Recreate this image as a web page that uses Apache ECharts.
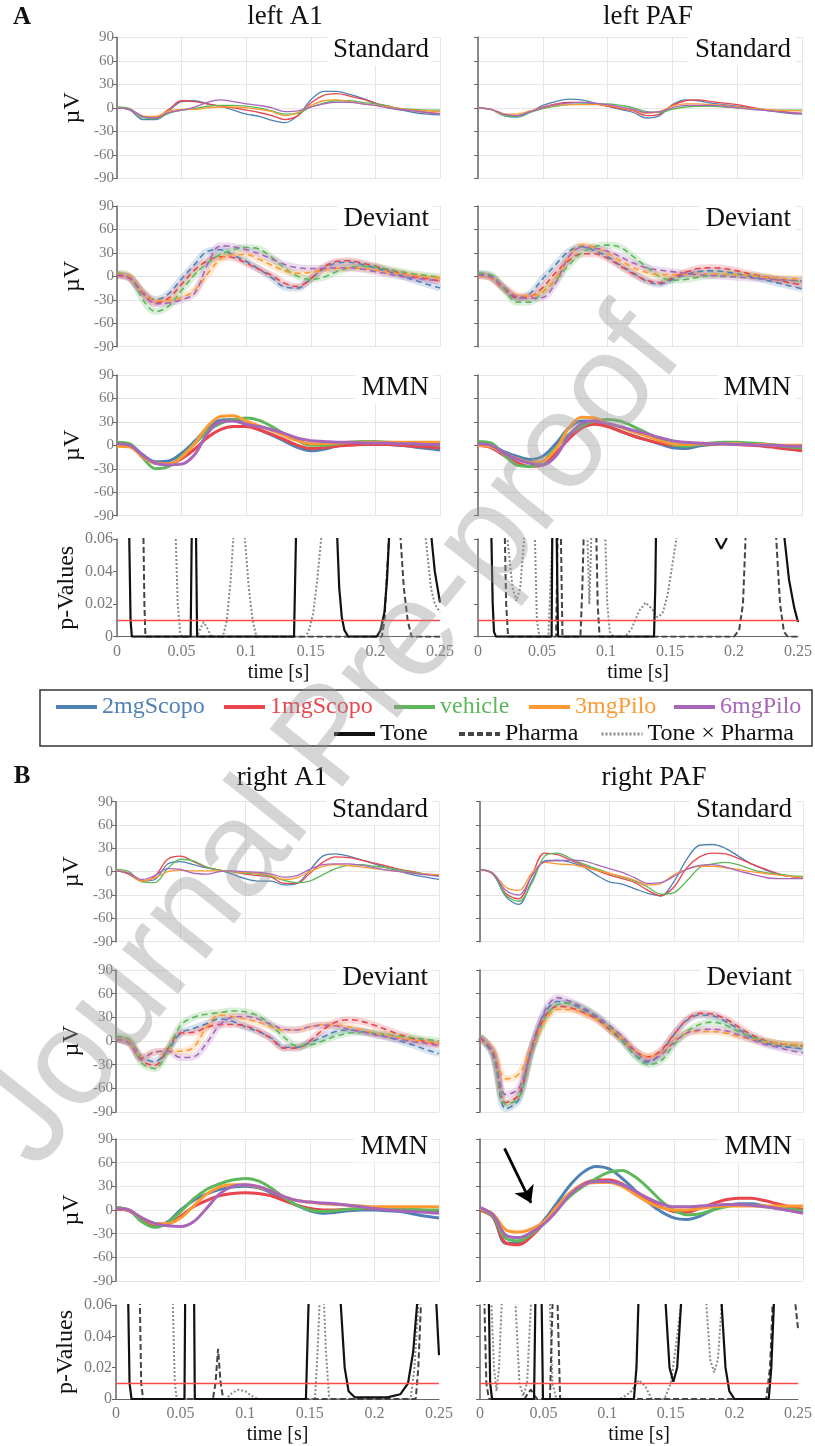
<!DOCTYPE html>
<html><head><meta charset="utf-8">
<script src="https://cdn.jsdelivr.net/npm/echarts@6/dist/echarts.min.js"></script>
<style>html,body{margin:0;padding:0;background:#fff}#c{width:815px;height:1446px}</style>
</head><body><div id="c"></div><script>
// ---------- DATA ----------
const times = [0,0.01,0.02,0.03,0.04,0.05,0.06,0.07,0.08,0.09,0.10,0.11,0.12,0.13,0.14,0.15,0.16,0.17,0.18,0.19,0.20,0.21,0.22,0.23,0.24,0.25];
const groups = ['2mgScopo','1mgScopo','vehicle','3mgPilo','6mgPilo'];
const pTerms = ['Tone','Pharma','Tone × Pharma'];
const pThreshold = 0.0125;
const columnTitles = ['left A1','left PAF','right A1','right PAF'];
const panelLabels = ['Standard','Deviant','MMN'];
const sectionLabels = ['A','B'];
const watermarkText = 'Journal Pre-proof';
// arrow annotation in right PAF MMN panel: [time, µV]
const arrowStart = [0.019, 78];
const arrowEnd = [0.0395, 9];

const leftA1Standard = {
  '2mgScopo':[0,-3,-15,-15,-4,8,9,5,2,-3,-8,-11,-16,-19,-10,10,21,21,17,12,6,0,-3,-6,-8,-9],
  '1mgScopo':[0,-2,-11,-12,-2,9,8,5,2,0,-3,-6,-10,-15,-10,6,16,18,15,11,6,2,-2,-4,-6,-7],
  'vehicle':[1,-1,-13,-14,-7,-3,-1,2,3,3,2,0,-4,-8,-7,1,6,9,9,7,5,2,-1,-2,-3,-3],
  '3mgPilo':[0,-2,-11,-11,-4,-2,-2,0,1,1,0,-2,-5,-10,-6,3,9,10,8,5,3,1,-1,-3,-4,-5],
  '6mgPilo':[0,-2,-11,-13,-6,-3,1,7,10,8,5,3,0,-5,-4,1,5,7,7,5,3,0,-2,-4,-6,-8]
};
const leftPAFStandard = {
  '2mgScopo':[0,-2,-10,-12,-6,3,8,11,10,6,2,-2,-6,-13,-10,4,10,9,6,4,2,0,-3,-5,-7,-8],
  '1mgScopo':[0,-2,-8,-10,-5,1,5,7,7,5,2,-1,-4,-10,-8,3,9,10,8,6,4,1,-2,-4,-6,-7],
  'vehicle':[0,-2,-10,-11,-6,-1,2,4,5,5,5,3,0,-5,-6,-2,1,2,2,1,0,-1,-2,-3,-3,-3],
  '3mgPilo':[0,-2,-8,-8,-4,0,3,4,4,4,3,0,-3,-7,-5,2,5,5,4,3,1,-1,-2,-3,-4,-4],
  '6mgPilo':[0,-2,-8,-10,-5,0,4,6,7,6,4,1,-2,-6,-5,0,3,3,3,2,0,-2,-3,-5,-6,-7]
};
const leftA1Deviant = {
  '2mgScopo':[2,-2,-20,-30,-22,-3,15,32,34,27,19,9,-2,-14,-15,-3,10,17,18,15,11,6,1,-5,-10,-15],
  '1mgScopo':[1,-3,-22,-34,-28,-10,8,20,25,24,17,9,1,-9,-13,-3,12,19,20,17,13,8,4,0,-3,-6],
  'vehicle':[4,0,-30,-45,-38,-18,2,17,28,34,37,35,24,10,0,-4,-1,6,11,13,12,9,6,3,1,-1],
  '3mgPilo':[3,0,-20,-31,-31,-27,-18,3,22,28,28,22,14,7,4,5,8,10,11,10,8,5,3,1,-1,-2],
  '6mgPilo':[2,-2,-22,-35,-34,-30,-22,15,39,38,34,29,22,15,11,10,10,11,11,9,6,3,0,-2,-4,-6]
};
const leftPAFDeviant = {
  '2mgScopo':[3,0,-15,-28,-22,-3,15,32,38,33,25,14,4,-6,-10,-4,2,6,7,6,3,0,-4,-8,-12,-16],
  '1mgScopo':[1,-2,-16,-27,-26,-14,5,20,29,29,23,13,3,-5,-8,-2,5,10,11,10,7,3,0,-4,-8,-11],
  'vehicle':[4,2,-16,-33,-33,-20,-5,14,30,38,40,37,25,12,0,-5,-4,-1,1,2,2,1,-1,-3,-5,-6],
  '3mgPilo':[1,-2,-14,-24,-25,-20,-3,24,40,37,30,20,11,5,2,2,3,3,3,3,2,1,-1,-2,-3,-3],
  '6mgPilo':[2,-1,-14,-26,-28,-27,-8,25,37,36,32,25,17,11,8,6,4,2,1,0,-1,-2,-3,-4,-5,-6]
};
const leftA1MMN = {
  '2mgScopo':[3,1,-12,-21,-20,-10,5,22,32,33,27,20,13,5,-3,-7,-5,-1,1,2,2,1,0,-2,-4,-6],
  '1mgScopo':[1,-1,-13,-23,-24,-17,-5,10,20,24,24,20,14,7,0,-4,-3,-1,0,1,1,1,0,-1,-2,-3],
  'vehicle':[4,2,-16,-30,-27,-14,2,18,28,33,35,32,24,14,6,0,0,2,4,5,5,4,3,2,1,0],
  '3mgPilo':[-1,-2,-15,-23,-24,-15,2,24,37,38,31,25,19,12,6,2,2,3,4,4,4,4,4,4,4,4],
  '6mgPilo':[2,0,-13,-23,-25,-24,-12,15,30,31,27,24,20,15,9,6,5,4,4,3,3,3,2,2,1,1]
};
const leftPAFMMN = {
  '2mgScopo':[3,1,-8,-14,-18,-14,2,22,31,31,25,18,12,7,2,-3,-4,-1,1,2,2,1,0,-2,-4,-6],
  '1mgScopo':[0,-3,-13,-22,-27,-25,-10,8,22,27,24,18,12,7,3,0,0,1,2,2,1,0,-1,-3,-5,-7],
  'vehicle':[5,3,-12,-25,-27,-20,-3,14,25,31,33,31,24,16,8,1,-1,1,3,4,4,3,2,0,-2,-3],
  '3mgPilo':[0,-2,-10,-17,-22,-20,-5,22,36,35,28,23,17,12,6,2,1,2,2,2,2,1,1,0,0,0],
  '6mgPilo':[2,0,-10,-18,-23,-25,-14,12,28,31,28,24,19,15,10,6,4,3,2,2,1,1,0,0,-1,-1]
};
const rightA1Standard = {
  '2mgScopo':[2,-3,-12,-10,10,13,9,5,2,-3,-9,-12,-12,-17,-15,2,20,23,20,15,10,5,0,-4,-7,-10],
  '1mgScopo':[2,-3,-12,-6,16,20,13,6,2,0,-3,-5,-7,-15,-15,-2,12,19,18,15,11,7,3,0,-3,-5],
  'vehicle':[3,0,-13,-14,4,16,14,6,2,0,-2,-3,-6,-11,-14,-12,-4,4,8,9,7,5,2,-1,-3,-4],
  '3mgPilo':[2,-2,-12,-8,0,2,1,1,1,0,-1,-2,-5,-10,-8,0,7,9,8,6,4,2,0,-2,-3,-4],
  '6mgPilo':[1,-2,-10,-5,4,3,-2,-3,0,1,0,-1,-3,-7,-5,3,9,10,10,8,5,2,0,-2,-4,-6]
};
const rightPAFStandard = {
  '2mgScopo':[3,-3,-32,-42,-12,14,15,12,6,-4,-13,-16,-22,-28,-31,-13,16,34,35,30,20,10,3,-3,-6,-8],
  '1mgScopo':[3,-3,-28,-35,-5,24,22,15,8,2,-4,-9,-14,-24,-31,-20,5,19,24,23,17,10,4,-2,-6,-8],
  'vehicle':[3,-2,-30,-38,-15,20,24,17,10,4,-2,-7,-12,-20,-29,-27,-12,5,10,12,9,3,-1,-3,-5,-6],
  '3mgPilo':[3,-2,-20,-24,-2,12,10,9,6,2,-2,-6,-11,-17,-15,-4,3,7,7,5,3,0,-2,-4,-6,-8],
  '6mgPilo':[3,-2,-24,-30,-6,13,14,15,14,9,4,-1,-8,-15,-14,-6,3,8,9,6,1,-3,-7,-9,-9,-9]
};
const rightA1Deviant = {
  '2mgScopo':[3,0,-20,-26,-12,10,16,22,28,25,18,12,4,-8,-8,-2,5,12,14,12,9,5,0,-5,-11,-16],
  '1mgScopo':[2,-2,-25,-31,-10,10,11,17,21,21,19,13,3,-9,-9,0,14,24,27,25,20,14,8,3,-1,-5],
  'vehicle':[6,2,-28,-35,-12,20,30,34,36,38,37,32,20,5,-6,-5,0,6,10,11,10,8,6,4,2,0],
  '3mgPilo':[3,0,-20,-14,-13,-13,-8,17,33,31,28,24,18,14,14,18,21,20,18,14,10,7,4,1,-1,-3],
  '6mgPilo':[2,-2,-22,-14,-13,-21,-20,-3,20,30,31,28,21,15,14,18,20,19,15,12,8,5,2,-1,-3,-6]
};
const rightPAFDeviant = {
  '2mgScopo':[5,-18,-86,-74,-8,35,50,47,40,30,15,0,-18,-27,-15,8,26,33,32,25,15,5,-2,-6,-8,-10],
  '1mgScopo':[4,-15,-78,-68,-10,30,44,42,36,28,15,2,-13,-20,-12,8,27,35,34,28,18,8,1,-3,-5,-6],
  'vehicle':[6,-15,-80,-72,-14,28,46,48,42,32,18,2,-18,-30,-25,-5,12,21,24,20,12,5,0,-3,-5,-6],
  '3mgPilo':[5,-10,-48,-42,-8,25,40,40,35,27,15,3,-12,-20,-15,0,10,12,12,10,6,2,-1,-3,-4,-5],
  '6mgPilo':[5,-13,-68,-60,-10,38,55,50,42,32,20,6,-12,-25,-18,-2,10,14,15,13,8,2,-4,-8,-12,-15]
};
const rightA1MMN = {
  '2mgScopo':[3,0,-12,-20,-15,0,12,20,26,29,30,28,22,14,6,-1,-4,-3,-1,0,0,-1,-2,-5,-8,-10],
  '1mgScopo':[1,-1,-12,-20,-18,-8,4,12,18,21,22,21,18,12,6,2,0,0,1,2,2,1,0,-1,-2,-3],
  'vehicle':[3,0,-15,-22,-16,-2,14,26,33,38,40,37,28,16,6,0,-2,-1,1,2,3,3,2,1,0,0],
  '3mgPilo':[2,0,-10,-17,-17,-10,5,20,29,32,32,29,24,17,12,10,8,7,6,5,4,4,4,4,4,4],
  '6mgPilo':[2,0,-10,-17,-20,-21,-15,2,20,30,32,30,24,17,12,10,9,8,6,4,2,0,-1,-2,-3,-4]
};
const rightPAFMMN = {
  '2mgScopo':[3,-8,-42,-42,-30,-12,10,32,48,55,52,40,25,10,-2,-10,-12,-8,0,5,8,8,5,2,0,-2],
  '1mgScopo':[0,-9,-42,-44,-33,-16,5,22,33,38,38,33,22,12,4,-2,-3,2,8,13,15,15,12,8,4,1],
  'vehicle':[2,-8,-36,-39,-30,-16,2,18,30,40,48,50,42,28,12,0,-6,-5,0,4,6,6,5,3,1,-1],
  '3mgPilo':[2,-5,-25,-28,-24,-14,5,22,32,35,35,30,20,10,3,0,0,2,4,5,5,5,5,5,5,5],
  '6mgPilo':[3,-6,-32,-35,-28,-17,0,20,32,36,36,32,24,15,8,4,4,5,6,7,7,6,4,2,-1,-4]
};

// p-values: [time (s), p]
const leftA1P = {
  'Tone':[[0,1],[0.0085,0.3],[0.0095,0.06],[0.0105,0.01],[0.0115,0],[0.057,0],[0.0578,0.06],[0.0595,0.3],[0.0612,0.06],[0.062,0],[0.137,0],[0.1385,0.06],[0.142,0.4],[0.166,0.4],[0.1705,0.06],[0.172,0.03],[0.174,0.012],[0.176,0.004],[0.179,0],[0.201,0],[0.204,0.004],[0.207,0.015],[0.209,0.035],[0.2105,0.06],[0.214,0.3],[0.238,0.3],[0.2435,0.06],[0.246,0.04],[0.25,0.021]],
  'Pharma':[[0,1],[0.019,0.3],[0.0205,0.06],[0.0212,0.02],[0.022,0],[0.205,0],[0.207,0.01],[0.209,0.04],[0.2105,0.06],[0.213,0.3],[0.217,0.3],[0.2195,0.06],[0.222,0.03],[0.225,0.01],[0.228,0],[0.25,0]],
  'Tone × Pharma':[[0,1],[0.043,0.3],[0.0455,0.06],[0.047,0.02],[0.049,0.002],[0.05,0],[0.062,0],[0.064,0.004],[0.067,0.009],[0.07,0.005],[0.073,0],[0.082,0],[0.085,0.01],[0.088,0.035],[0.09,0.06],[0.093,0.3],[0.096,0.3],[0.099,0.06],[0.102,0.03],[0.105,0.01],[0.108,0],[0.146,0],[0.149,0.005],[0.152,0.015],[0.155,0.035],[0.158,0.06],[0.162,0.3],[0.235,0.3],[0.239,0.06],[0.243,0.03],[0.246,0.02],[0.25,0.015]]
};
const leftPAFP = {
  'Tone':[[0,1],[0.009,0.3],[0.0105,0.06],[0.0115,0.02],[0.0125,0.003],[0.014,0],[0.0575,0],[0.058,0.06],[0.06,0.3],[0.0615,0.06],[0.0625,0],[0.1375,0],[0.1385,0.03],[0.139,0.06],[0.142,0.3],[0.18,0.3],[0.186,0.06],[0.19,0.054],[0.194,0.06],[0.2,0.3],[0.236,0.3],[0.2395,0.06],[0.243,0.035],[0.247,0.018],[0.25,0.009]],
  'Pharma':[[0,1],[0.02,0.3],[0.021,0.06],[0.022,0.02],[0.0235,0],[0.061,0],[0.0622,0.06],[0.063,0.3],[0.064,0.3],[0.0648,0.06],[0.066,0],[0.08,0],[0.0815,0.03],[0.0825,0.06],[0.085,0.3],[0.09,0.3],[0.0925,0.06],[0.0935,0.02],[0.095,0],[0.2,0],[0.204,0.004],[0.207,0.02],[0.209,0.06],[0.212,0.3],[0.23,0.3],[0.233,0.06],[0.236,0.02],[0.239,0.003],[0.242,0],[0.25,0]],
  'Tone × Pharma':[[0,1],[0.02,0.3],[0.023,0.06],[0.027,0.03],[0.03,0.022],[0.033,0.03],[0.036,0.06],[0.038,0.3],[0.042,0.3],[0.0445,0.06],[0.046,0.01],[0.048,0],[0.055,0],[0.058,0.06],[0.06,0.3],[0.083,0.3],[0.0855,0.06],[0.087,0.02],[0.0885,0.06],[0.09,0.3],[0.097,0.3],[0.0995,0.06],[0.101,0.02],[0.103,0.003],[0.106,0],[0.115,0],[0.12,0.005],[0.126,0.016],[0.131,0.021],[0.136,0.017],[0.14,0.012],[0.144,0.014],[0.148,0.025],[0.152,0.045],[0.155,0.06],[0.16,0.3],[0.25,0.3]]
};
const rightA1P = {
  'Tone':[[0,1],[0.0085,0.3],[0.0095,0.06],[0.0105,0.01],[0.012,0],[0.053,0],[0.0535,0.06],[0.0565,0.3],[0.0605,0.06],[0.061,0],[0.147,0],[0.148,0.03],[0.149,0.06],[0.152,0.3],[0.17,0.3],[0.174,0.06],[0.177,0.02],[0.18,0.005],[0.185,0.001],[0.21,0.001],[0.22,0.003],[0.226,0.01],[0.23,0.03],[0.233,0.06],[0.237,0.3],[0.245,0.3],[0.248,0.06],[0.25,0.028]],
  'Pharma':[[0,1],[0.017,0.3],[0.0185,0.06],[0.0195,0.01],[0.021,0],[0.075,0],[0.077,0.01],[0.079,0.032],[0.081,0.01],[0.083,0],[0.232,0],[0.234,0.02],[0.236,0.06],[0.238,0.3],[0.25,0.3]],
  'Tone × Pharma':[[0,1],[0.042,0.3],[0.044,0.06],[0.0455,0.01],[0.047,0],[0.085,0],[0.09,0.004],[0.095,0.006],[0.1,0.005],[0.105,0.002],[0.11,0],[0.154,0],[0.156,0.03],[0.1575,0.06],[0.159,0.3],[0.161,0.06],[0.1625,0.03],[0.165,0],[0.228,0],[0.231,0.02],[0.234,0.06],[0.237,0.3],[0.25,0.3]]
};
const rightPAFP = {
  'Tone':[[0,1],[0.006,0.3],[0.007,0.06],[0.008,0.01],[0.0095,0],[0.0425,0],[0.0435,0.06],[0.046,0.3],[0.0485,0.06],[0.0495,0],[0.121,0],[0.123,0.02],[0.1245,0.06],[0.127,0.3],[0.143,0.3],[0.146,0.06],[0.149,0.02],[0.152,0.011],[0.155,0.02],[0.158,0.06],[0.161,0.3],[0.186,0.3],[0.19,0.06],[0.193,0.02],[0.196,0.005],[0.2,0],[0.227,0],[0.229,0.02],[0.231,0.06],[0.234,0.3],[0.25,0.3]],
  'Pharma':[[0,1],[0.002,0.3],[0.0035,0.06],[0.005,0.01],[0.007,0],[0.035,0],[0.038,0.004],[0.04,0.006],[0.043,0.002],[0.045,0],[0.055,0],[0.057,0.06],[0.059,0.3],[0.061,0.06],[0.063,0],[0.225,0],[0.228,0.02],[0.23,0.06],[0.233,0.3],[0.245,0.3],[0.248,0.06],[0.25,0.045]],
  'Tone × Pharma':[[0,0.3],[0.006,0.3],[0.009,0.06],[0.011,0.02],[0.013,0.005],[0.015,0.02],[0.017,0.06],[0.02,0.3],[0.025,0.3],[0.028,0.06],[0.031,0.01],[0.034,0.002],[0.037,0.01],[0.04,0.06],[0.043,0.3],[0.052,0.3],[0.055,0.06],[0.057,0.01],[0.06,0],[0.11,0],[0.118,0.004],[0.125,0.012],[0.13,0.008],[0.135,0],[0.145,0],[0.15,0.01],[0.155,0.04],[0.158,0.06],[0.162,0.3],[0.174,0.3],[0.178,0.06],[0.181,0.025],[0.184,0.017],[0.187,0.025],[0.19,0.06],[0.194,0.3],[0.25,0.3]]
};

// ---------- STYLE / LAYOUT ----------
const FONT = '"Liberation Serif", "DejaVu Serif", serif';
const colorOf = {'2mgScopo':'#4f81b5','1mgScopo':'#e8454c','vehicle':'#5db85c','3mgPilo':'#ff9a33','6mgPilo':'#a866b8'};
const pStyle = {
  'Tone':{color:'#111', width:2.2, type:'solid'},
  'Pharma':{color:'#444', width:2, type:[6,3]},
  'Tone × Pharma':{color:'#8a8a8a', width:2, type:[2,2]}
};
const layout = [
  {data:leftA1Standard, kind:'std', x0:117, x1:440, top:37.3, h:141, left:true, label:0},
  {data:leftPAFStandard, kind:'std', x0:478, x1:802, top:37.3, h:141, left:false, label:0},
  {data:leftA1Deviant, kind:'dev', x0:117, x1:440, top:206, h:140.7, left:true, label:1},
  {data:leftPAFDeviant, kind:'dev', x0:478, x1:802, top:206, h:140.7, left:false, label:1},
  {data:leftA1MMN, kind:'mmn', x0:117, x1:440, top:375, h:140.7, left:true, label:2},
  {data:leftPAFMMN, kind:'mmn', x0:478, x1:802, top:375, h:140.7, left:false, label:2},
  {data:leftA1P, kind:'p', x0:117, x1:440, top:539, h:97.7, left:true},
  {data:leftPAFP, kind:'p', x0:478, x1:802, top:539, h:97.7, left:false},
  {data:rightA1Standard, kind:'std', x0:116, x1:439, top:801.7, h:140, left:true, label:0},
  {data:rightPAFStandard, kind:'std', x0:480, x1:803, top:801.7, h:140, left:false, label:0},
  {data:rightA1Deviant, kind:'dev', x0:116, x1:439, top:970, h:142, left:true, label:1},
  {data:rightPAFDeviant, kind:'dev', x0:480, x1:803, top:970, h:142, left:false, label:1},
  {data:rightA1MMN, kind:'mmn', x0:116, x1:439, top:1139, h:142, left:true, label:2},
  {data:rightPAFMMN, kind:'mmn', x0:480, x1:803, top:1139, h:142, left:false, label:2, arrow:true},
  {data:rightA1P, kind:'p', x0:116, x1:439, top:1305, h:98, left:true},
  {data:rightPAFP, kind:'p', x0:480, x1:803, top:1305, h:98, left:false}
];

const grids = [], xAxes = [], yAxes = [], series = [], graphics = [];
const axisDark = '#666', gridGrey = '#e6e6e6', tickGrey = '#7a7a7a';

layout.forEach((p, i) => {
  grids.push({left:p.x0, top:p.top, width:p.x1 - p.x0, height:p.h});
  if (p.kind === 'p') {
    xAxes.push({gridIndex:i, type:'value', min:0, max:0.25, interval:0.05,
      axisLine:{show:true, onZero:false, lineStyle:{color:axisDark, width:1.2}},
      axisTick:{show:false}, splitLine:{show:false},
      axisLabel:{show:true, color:tickGrey, fontSize:16, fontFamily:FONT, margin:7},
      name:'time [s]', nameLocation:'middle', nameGap:26,
      nameTextStyle:{color:'#111', fontSize:20, fontFamily:FONT}});
    yAxes.push({gridIndex:i, type:'value', min:0, max:0.06, interval:0.02,
      axisLine:{show:true, lineStyle:{color:axisDark, width:1.5}},
      axisTick:{show:true, length:4, lineStyle:{color:axisDark}},
      splitLine:{show:false},
      axisLabel:{show:p.left, color:tickGrey, fontSize:16, fontFamily:FONT, margin:4},
      name:p.left ? 'p-Values' : '', nameLocation:'middle', nameGap:38,
      nameTextStyle:{color:'#111', fontSize:24, fontFamily:FONT}});
    const order = ['Tone × Pharma','Pharma','Tone'];
    order.forEach(term => {
      const st = pStyle[term];
      const s = {type:'line', name:term, xAxisIndex:i, yAxisIndex:i, data:p.data[term],
        symbol:'none', showSymbol:false, clip:true, smooth:false,
        lineStyle:{color:st.color, width:st.width, type:st.type}, itemStyle:{color:st.color}, z:3};
      if (term === 'Tone') {
        s.markLine = {silent:true, symbol:'none', label:{show:false},
          lineStyle:{color:'#ff4848', width:1.4, type:'solid'}, data:[{yAxis:pThreshold}]};
      }
      series.push(s);
    });
  } else {
    xAxes.push({gridIndex:i, type:'value', min:0, max:0.25, interval:0.05,
      axisLine:{show:false}, axisTick:{show:false}, axisLabel:{show:false},
      splitLine:{show:true, lineStyle:{color:gridGrey, width:1}}});
    yAxes.push({gridIndex:i, type:'value', min:-90, max:90, interval:30,
      axisLine:{show:true, lineStyle:{color:axisDark, width:1.5}},
      axisTick:{show:true, length:4, lineStyle:{color:axisDark}},
      splitLine:{show:true, lineStyle:{color:gridGrey, width:1}},
      axisLabel:{show:p.left, color:tickGrey, fontSize:15, fontFamily:FONT, margin:3},
      name:p.left ? 'µV' : '', nameLocation:'middle', nameGap:32,
      nameTextStyle:{color:'#111', fontSize:24, fontFamily:FONT}});
    groups.forEach((g, gi) => {
      const pts = times.map((t, k) => [t, p.data[g][k]]);
      const c = colorOf[g];
      if (p.kind === 'dev') {
        series.push({type:'line', name:g + ' band', xAxisIndex:i, yAxisIndex:i, data:pts,
          symbol:'none', showSymbol:false, smooth:0.35, silent:true,
          lineStyle:{color:c, width:7, opacity:0.22}, z:1});
      }
      const s = {type:'line', name:g, xAxisIndex:i, yAxisIndex:i, data:pts,
        symbol:'none', showSymbol:false, smooth:0.35,
        lineStyle:{color:c, width:p.kind === 'std' ? 1.3 : (p.kind === 'dev' ? 1.6 : 3),
          type:p.kind === 'dev' ? [6,4] : 'solid'},
        itemStyle:{color:c}, z:2};
      if (p.arrow && gi === groups.length - 1) {
        s.markLine = {silent:true, symbol:['none','arrow'], symbolSize:16, label:{show:false},
          itemStyle:{color:'#000'},
          lineStyle:{color:'#000', width:2.8, type:'solid', opacity:1},
          data:[[{coord:arrowStart, itemStyle:{color:'#000'}}, {coord:arrowEnd, itemStyle:{color:'#000'}}]]};
      }
      series.push(s);
    });
    graphics.push({type:'text', x:p.x1 - 7, y:p.top + (i < 8 ? 13 : 8), z:20,
      style:{text:panelLabels[p.label], font:'27px ' + FONT, fill:'#111', align:'right',
        verticalAlign:'middle', backgroundColor:'#fff', padding:[2,4,2,6]}});
  }
});

[[sectionLabels[0],22,18],[sectionLabels[1],22,777]].forEach(([t,x,y]) => {
  graphics.push({type:'text', x, y, z:20, style:{text:t, font:'bold 25px ' + FONT, fill:'#111', align:'center', verticalAlign:'middle'}});
});
[[columnTitles[0],285,17],[columnTitles[1],648,17],[columnTitles[2],282,778],[columnTitles[3],654,778]].forEach(([t,x,y]) => {
  graphics.push({type:'text', x, y, z:20, style:{text:t, font:'27px ' + FONT, fill:'#111', align:'center', verticalAlign:'middle'}});
});
graphics.push({type:'rect', z:5, shape:{x:40, y:690, width:772, height:56}, style:{fill:'none', stroke:'#333', lineWidth:1.5}});
graphics.push({type:'text', x:332, y:740, rotation:0.9, z:100, silent:true,
  style:{text:watermarkText, font:'135px "Liberation Sans", Arial, sans-serif', fill:'rgba(150,150,150,0.4)', align:'center', verticalAlign:'middle'}});

const legendPos = [[54,695],[222,695],[392,695],[527,695],[672,695],[332,722],[457,722],[600,722]];
const legendNames = groups.concat(pTerms);
const legends = legendNames.map((n, k) => ({
  left:legendPos[k][0], top:legendPos[k][1], orient:'horizontal', selectedMode:false,
  padding:0, itemWidth:41, itemHeight:14, itemGap:0,
  itemStyle:{opacity:0, borderWidth:0},
  lineStyle:{width: k === 7 ? 3 : 4},
  data:[{name:n, textStyle:{color: k < 5 ? colorOf[n] : '#111'}}],
  textStyle:{fontFamily:FONT, fontSize:24, color:'#111'}
}));

const chart = echarts.init(document.getElementById('c'), null, {renderer:'canvas'});
chart.setOption({
  animation:false,
  backgroundColor:'#fff',
  grid:grids, xAxis:xAxes, yAxis:yAxes, series, legend:legends, graphic:graphics,
  tooltip:{show:false}
});
</script></body></html>
